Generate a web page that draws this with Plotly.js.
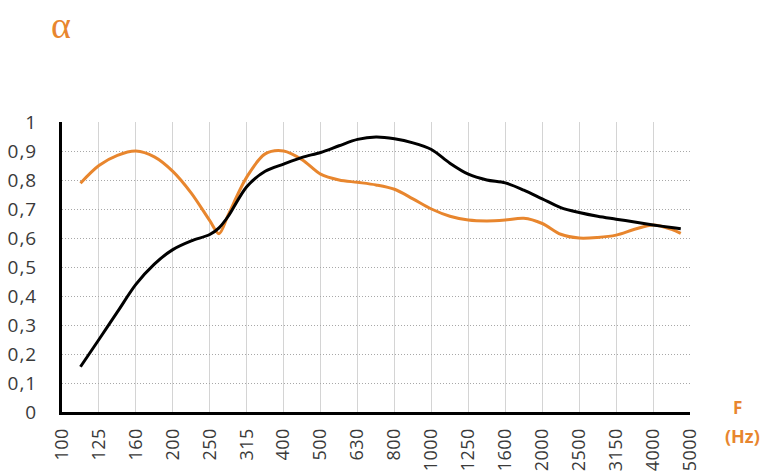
<!DOCTYPE html>
<html>
<head>
<meta charset="utf-8">
<script src="https://cdn.plot.ly/plotly-3.0.1.min.js"></script>
<style>
html,body{margin:0;padding:0;background:#fff;}
#chart{width:761px;height:474px;}
.ytick text {letter-spacing: 1px;}
.xtick text {letter-spacing: 0.5px;}
</style>
</head>
<body>
<div id="chart"></div>
<script>
// Tick labels (1/3-octave band frequencies, Hz)
var freqLabels = ["100","125","160","200","250","315","400","500","630","800","1000","1250","1600","2000","2500","3150","4000","5000"];
var yTickLabels = ["0","0,1","0,2","0,3","0,4","0,5","0,6","0,7","0,8","0,9","1"];
var yTickVals = [0,0.1,0.2,0.3,0.4,0.5,0.6,0.7,0.8,0.9,1];

// Sample positions along the band axis (band index, 0 = 100 Hz label)
var bandPos = [0.5,1,1.5,2,2.5,3,3.5,4,4.25,4.5,5,5.5,6,6.5,7,7.5,8,8.5,9,9.5,10,10.5,11,11.5,12,12.5,13,13.5,14,14.5,15,15.5,16,16.5,16.75];

// Absorption coefficient, orange curve
var alphaOrange = [0.789,0.85,0.885,0.90,0.88,0.83,0.755,0.66,0.615,0.68,0.81,0.89,0.90,0.87,0.82,0.80,0.792,0.783,0.768,0.735,0.70,0.675,0.662,0.659,0.662,0.668,0.65,0.613,0.60,0.602,0.61,0.63,0.645,0.63,0.616];
// Absorption coefficient, black curve
var alphaBlack = [0.156,0.25,0.345,0.44,0.51,0.56,0.59,0.612,0.635,0.675,0.777,0.83,0.855,0.878,0.895,0.918,0.94,0.948,0.942,0.928,0.905,0.858,0.82,0.80,0.79,0.765,0.735,0.705,0.688,0.675,0.665,0.655,0.645,0.636,0.632];

var tickPos = freqLabels.map(function(_, i){ return i; });

var traces = [
  {x: bandPos, y: alphaOrange, type: 'scatter', mode: 'lines',
   line: {color: '#E8862E', width: 3, shape: 'spline', smoothing: 0.9}, hoverinfo: 'none'},
  {x: bandPos, y: alphaBlack, type: 'scatter', mode: 'lines',
   line: {color: '#000000', width: 3, shape: 'spline', smoothing: 0.9}, hoverinfo: 'none'}
];

var yFont = {family: 'Open Sans, sans-serif', size: 19, color: '#3a3a3a'};
var xFont = {family: 'Open Sans, sans-serif', size: 18, color: '#3a3a3a'};
var orange = '#E8862E';

var layout = {
  width: 761, height: 474,
  margin: {l: 62, r: 71, t: 122, b: 62, pad: 0},
  paper_bgcolor: '#ffffff', plot_bgcolor: '#ffffff',
  showlegend: false,
  xaxis: {
    range: [0, 17], tickmode: 'array', tickvals: tickPos, ticktext: freqLabels,
    tickangle: -90, tickfont: xFont, ticks: '', ticklabelstandoff: 6,
    showgrid: true, gridcolor: '#d4d4d4', gridwidth: 1, griddash: 'solid',
    zeroline: false, showline: true, linecolor: '#000', linewidth: 3, fixedrange: true
  },
  yaxis: {
    range: [0, 1], tickmode: 'array', tickvals: yTickVals, ticktext: yTickLabels,
    tickfont: yFont, ticks: '', ticklabelstandoff: 18,
    showgrid: true, gridcolor: '#a8a8a8', gridwidth: 1, griddash: '1px,2px',
    zeroline: false, showline: true, linecolor: '#000', linewidth: 3, fixedrange: true
  },
  annotations: [
    {text: 'α', xref: 'paper', yref: 'paper', x: -0.002, y: 1.335, showarrow: false,
     xanchor: 'center', yanchor: 'middle', font: {family: 'Liberation Serif, serif', size: 38, color: orange}},
    {text: 'F', xref: 'paper', yref: 'paper', x: 1.075, y: 0.014, showarrow: false,
     xanchor: 'center', yanchor: 'middle', font: {family: 'Open Sans, sans-serif', size: 17, weight: 'bold', color: orange}},
    {text: '(Hz)', xref: 'paper', yref: 'paper', x: 1.083, y: -0.083, showarrow: false,
     xanchor: 'center', yanchor: 'middle', font: {family: 'Open Sans, sans-serif', size: 18, weight: 'bold', color: orange}}
  ]
};

Plotly.newPlot('chart', traces, layout, {staticPlot: true, displayModeBar: false});
</script>
</body>
</html>
